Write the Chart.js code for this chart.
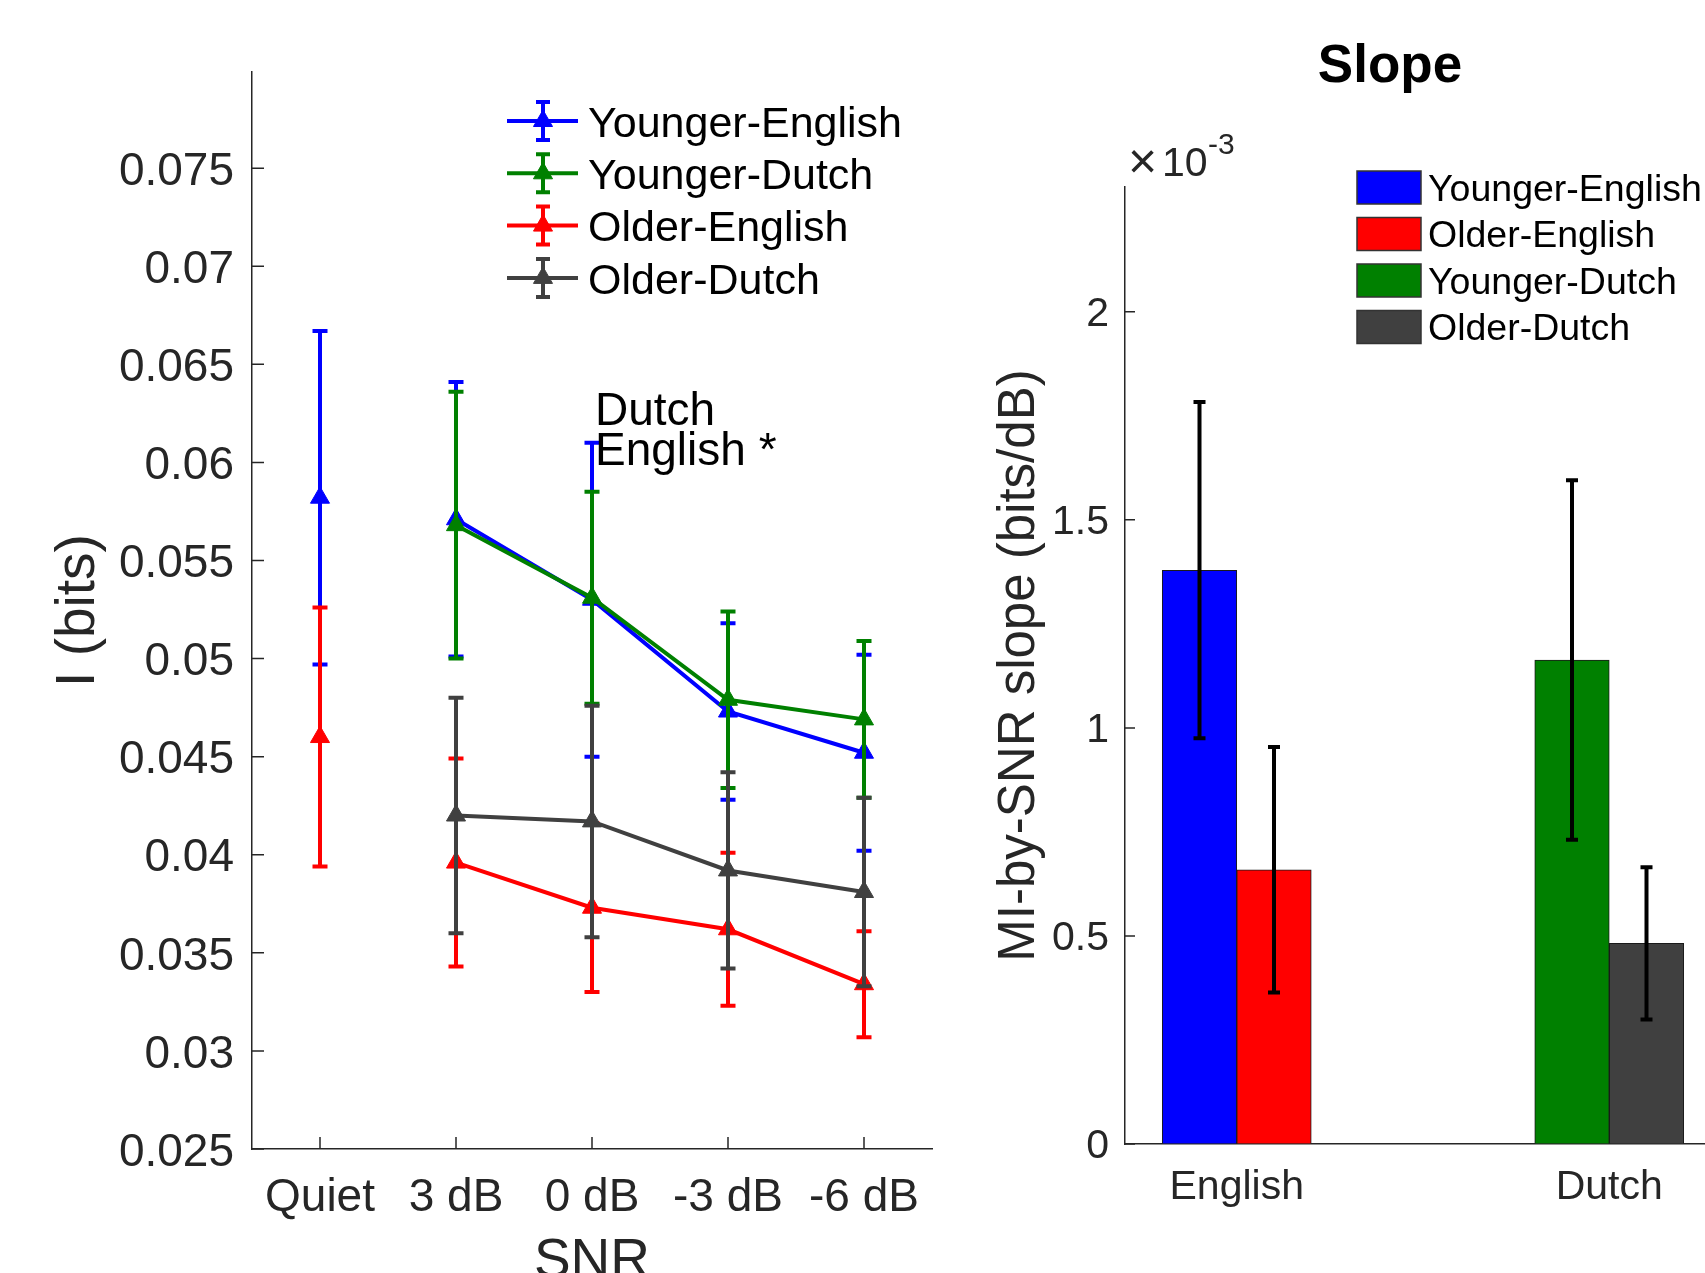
<!DOCTYPE html>
<html>
<head>
<meta charset="utf-8">
<title>MI by SNR</title>
<script src="https://cdn.jsdelivr.net/npm/chart.js@4.4.1/dist/chart.umd.min.js"></script>
<style>
	html, body { margin: 0; padding: 0; background: #fff; overflow: hidden; }
	#pagina { position: relative; width: 1705px; height: 1273px; overflow: hidden; background: #fff; }
	#graficoSnr { position: absolute; left: 0; top: 0; }
	#graficoSlope { position: absolute; left: 960px; top: 0; }
</style>
</head>
<body>
<div id="pagina">
	<canvas id="graficoSnr" width="960" height="1320"></canvas>
	<canvas id="graficoSlope" width="860" height="1273"></canvas>
</div>
<script>
// left panel: information (bits) per SNR condition, mean +- error
var snrLabels = ['Quiet', '3 dB', '0 dB', '-3 dB', '-6 dB'];
var snrTicks = [0.025, 0.03, 0.035, 0.04, 0.045, 0.05, 0.055, 0.06, 0.065, 0.07, 0.075];

var youngerEnglish    = [0.0582, 0.0571, 0.0530, 0.0473, 0.0452];
var youngerEnglishErr = [0.0085, 0.0070, 0.0080, 0.0045, 0.0050];
var youngerDutch      = [null, 0.0568, 0.0531, 0.0479, 0.0469];
var youngerDutchErr   = [null, 0.0068, 0.0054, 0.0045, 0.0040];
var olderEnglish      = [0.0460, 0.0396, 0.0373, 0.0362, 0.0334];
var olderEnglishErr   = [0.0066, 0.0053, 0.0043, 0.0039, 0.0027];
var olderDutch        = [null, 0.0420, 0.0417, 0.0392, 0.0381];
var olderDutchErr     = [null, 0.0060, 0.0059, 0.0050, 0.0048];

// right panel: MI-by-SNR slope per language
var slopeLanguages  = ['English', 'Dutch'];
var slopeTicks      = [0, 0.0005, 0.001, 0.0015, 0.002];
var slopeYounger    = [1.379e-3, 1.163e-3];
var slopeYoungerErr = [0.404e-3, 0.432e-3];
var slopeOlder      = [0.659e-3, 0.482e-3];
var slopeOlderErr   = [0.295e-3, 0.183e-3];
var slopeLegend     = ['Younger-English', 'Older-English', 'Younger-Dutch', 'Older-Dutch'];


var _fonte = "'Liberation Sans', Arial, Helvetica, sans-serif";
var _azul = '#0000ff';
var _verde = '#008000';
var _vermelho = '#ff0000';
var _cinza = '#404040';
var _eixo = '#262626';

Chart.defaults.font.family = _fonte;
Chart.defaults.color = _eixo;


// draws the error bars of each dataset right after the dataset itself
var barrasErro = {
	id: 'barrasErro',
	afterDatasetDraw: function(chart, args, opts) {
		var _ds = chart.data.datasets[args.index];
		if (!_ds.erros)
			return;

		var _meta = args.meta;
		var _escalaY = chart.scales[_meta.yAxisID];
		var ctx = chart.ctx;
		var _meia = opts.capa / 2;

		ctx.save();
		ctx.lineWidth = opts.largura;
		ctx.strokeStyle = opts.cor || _ds.borderColor;

		_meta.data.forEach(function(ponto, i) {
			var _erro = _ds.erros[i];
			var _valor = _meta.controller.getParsed(i).y;
			if (_erro == null || _valor == null || isNaN(_valor))
				return;

			var _topo = _escalaY.getPixelForValue(_valor + _erro);
			var _base = _escalaY.getPixelForValue(_valor - _erro);

			ctx.beginPath();
			ctx.moveTo(ponto.x, _topo);
			ctx.lineTo(ponto.x, _base);
			ctx.moveTo(ponto.x - _meia, _topo);
			ctx.lineTo(ponto.x + _meia, _topo);
			ctx.moveTo(ponto.x - _meia, _base);
			ctx.lineTo(ponto.x + _meia, _base);
			ctx.stroke();
		});
		ctx.restore();
	}
};

// matlab style ticks, pointing into the plot
var marcasEixo = {
	id: 'marcasEixo',
	beforeDatasetsDraw: function(chart, args, opts) {
		var ctx = chart.ctx;
		var _area = chart.chartArea;
		var _y = chart.scales.y;

		ctx.save();
		ctx.strokeStyle = _eixo;
		ctx.lineWidth = 1.5;
		ctx.beginPath();

		_y.ticks.forEach(function(t) {
			var py = _y.getPixelForValue(t.value);
			ctx.moveTo(_area.left, py);
			ctx.lineTo(_area.left + opts.tamanho, py);
		});

		if (opts.eixoX) {
			var _x = chart.scales.x;
			_x.ticks.forEach(function(t, i) {
				var px = _x.getPixelForTick(i);
				ctx.moveTo(px, _area.bottom);
				ctx.lineTo(px, _area.bottom - opts.tamanho);
			});
		}

		ctx.stroke();
		ctx.restore();
	}
};

function desenharTriangulo(ctx, x, y, raio) {
	if (Chart.helpers && Chart.helpers.drawPoint) {
		Chart.helpers.drawPoint(ctx, { pointStyle: 'triangle', radius: raio, rotation: 0, borderWidth: 1 }, x, y);
		return;
	}
	ctx.beginPath();
	ctx.moveTo(x, y - raio);
	ctx.lineTo(x + raio * 0.866, y + raio / 2);
	ctx.lineTo(x - raio * 0.866, y + raio / 2);
	ctx.closePath();
	ctx.fill();
	ctx.stroke();
}

// legend and the Dutch / English * note of the left panel
var textosSnr = {
	id: 'textosSnr',
	afterDraw: function(chart, args, opts) {
		var ctx = chart.ctx;
		ctx.save();

		chart.data.datasets.forEach(function(ds, i) {
			var _y = opts.legendaTopo + i * opts.legendaPasso;
			var _xc = opts.legendaX + 36;

			ctx.strokeStyle = ds.borderColor;
			ctx.fillStyle = ds.borderColor;

			ctx.lineWidth = 4;
			ctx.beginPath();
			ctx.moveTo(opts.legendaX, _y);
			ctx.lineTo(opts.legendaX + 71, _y);
			ctx.stroke();

			ctx.lineWidth = 4;
			ctx.beginPath();
			ctx.moveTo(_xc, _y - 19);
			ctx.lineTo(_xc, _y + 19);
			ctx.moveTo(_xc - 7, _y - 19);
			ctx.lineTo(_xc + 7, _y - 19);
			ctx.moveTo(_xc - 7, _y + 19);
			ctx.lineTo(_xc + 7, _y + 19);
			ctx.stroke();

			ctx.lineWidth = 1;
			desenharTriangulo(ctx, _xc, _y, 11);

			ctx.fillStyle = '#000';
			ctx.font = '43px ' + _fonte;
			ctx.textAlign = 'left';
			ctx.textBaseline = 'middle';
			ctx.fillText(ds.label, opts.legendaX + 81, _y + 4);
		});

		ctx.fillStyle = '#000';
		ctx.font = '46px ' + _fonte;
		ctx.textAlign = 'left';
		ctx.textBaseline = 'alphabetic';
		ctx.fillText('Dutch', opts.notaX, opts.notaY);
		ctx.fillText('English *', opts.notaX, opts.notaY + 40);

		ctx.restore();
	}
};

// title, x10^-3 multiplier and legend of the right panel
var textosSlope = {
	id: 'textosSlope',
	afterDraw: function(chart, args, opts) {
		var ctx = chart.ctx;
		var _area = chart.chartArea;
		var _cores = [];

		chart.data.datasets[0].backgroundColor.forEach(function(c, i) {
			_cores.push(c);
			_cores.push(chart.data.datasets[1].backgroundColor[i]);
		});

		ctx.save();
		ctx.fillStyle = '#000';
		ctx.font = 'bold 53px ' + _fonte;
		ctx.textAlign = 'center';
		ctx.textBaseline = 'alphabetic';
		ctx.fillText('Slope', opts.tituloX, 82);

		ctx.fillStyle = _eixo;
		ctx.textAlign = 'left';
		ctx.font = '50px ' + _fonte;
		ctx.fillText('\u00d7', _area.left + 3, 178);
		ctx.font = '41px ' + _fonte;
		ctx.fillText('10', _area.left + 37, 176);
		ctx.font = '30px ' + _fonte;
		ctx.fillText('-3', _area.left + 83, 154);

		slopeLegend.forEach(function(texto, i) {
			var _y = opts.legendaTopo + i * opts.legendaPasso;
			ctx.fillStyle = _cores[i];
			ctx.fillRect(opts.legendaX, _y - 16.5, 64, 33);
			ctx.strokeStyle = '#333';
			ctx.lineWidth = 1.5;
			ctx.strokeRect(opts.legendaX, _y - 16.5, 64, 33);

			ctx.fillStyle = '#000';
			ctx.font = '37.5px ' + _fonte;
			ctx.textBaseline = 'middle';
			ctx.fillText(texto, opts.legendaX + 71, _y + 3);
			ctx.textBaseline = 'alphabetic';
		});

		ctx.restore();
	}
};


function serieSnr(nome, valores, erros, cor, ordem) {
	return {
		label: nome,
		data: valores,
		erros: erros,
		order: ordem,
		borderColor: cor,
		backgroundColor: cor,
		borderWidth: 4,
		pointStyle: 'triangle',
		pointRadius: 11,
		pointBorderWidth: 1,
		pointBackgroundColor: cor,
		pointBorderColor: cor,
		fill: false,
		tension: 0,
		segment: {
			// Quiet is not joined to the SNR conditions
			borderColor: function(ctx) { return ctx.p0DataIndex === 0 ? 'rgba(0,0,0,0)' : undefined; }
		}
	};
}

var _graficoSnr = new Chart(document.getElementById('graficoSnr').getContext('2d'), {
	type: 'line',
	data: {
		labels: snrLabels,
		datasets: [
			serieSnr('Younger-English', youngerEnglish, youngerEnglishErr, _azul, 3),
			serieSnr('Younger-Dutch', youngerDutch, youngerDutchErr, _verde, 2),
			serieSnr('Older-English', olderEnglish, olderEnglishErr, _vermelho, 1),
			serieSnr('Older-Dutch', olderDutch, olderDutchErr, _cinza, 0)
		]
	},
	options: {
		responsive: false,
		animation: false,
		layout: { padding: { top: 72, right: 28, left: 0, bottom: 0 } },
		plugins: {
			legend: { display: false },
			tooltip: { enabled: false },
			barrasErro: { largura: 4, capa: 15 },
			marcasEixo: { tamanho: 12, eixoX: true },
			textosSnr: { legendaX: 507, legendaTopo: 121, legendaPasso: 52.3, notaX: 595, notaY: 425 }
		},
		scales: {
			x: {
				type: 'category',
				offset: true,
				grid: { display: true, drawOnChartArea: false, drawTicks: false, offset: true },
				border: { display: true, color: _eixo, width: 1.5 },
				ticks: { padding: 22, color: _eixo, font: { size: 46 }, maxRotation: 0, minRotation: 0, autoSkip: false },
				title: { display: true, text: 'SNR', color: _eixo, font: { size: 55 }, padding: { top: 0, bottom: 25 } },
				afterFit: function(escala) { escala.height = 171; }
			},
			y: {
				type: 'linear',
				min: 0.025,
				max: 0.0799,
				bounds: 'data',
				grid: { display: true, drawOnChartArea: false, drawTicks: false },
				border: { display: true, color: _eixo, width: 1.5 },
				ticks: {
					padding: 18, labelOffset: 4, color: _eixo, font: { size: 46 }, autoSkip: false,
					callback: function(v) { return String(+v.toFixed(3)); }
				},
				afterBuildTicks: function(escala) {
					escala.ticks = snrTicks.map(function(v) { return { value: v }; });
				},
				title: { display: true, text: 'I (bits)', color: _eixo, font: { size: 55 }, padding: { top: 46, bottom: 0 } },
				afterFit: function(escala) { escala.width = 252; }
			}
		}
	},
	plugins: [barrasErro, marcasEixo, textosSnr]
});


function pontosSlope(valores) {
	return valores.map(function(v, i) { return { x: i + 1, y: v }; });
}

var _graficoSlope = new Chart(document.getElementById('graficoSlope').getContext('2d'), {
	type: 'bar',
	data: {
		datasets: [
			{
				label: 'Younger',
				data: pontosSlope(slopeYounger),
				erros: slopeYoungerErr,
				backgroundColor: [_azul, _verde],
				borderColor: '#1a1a1a',
				borderWidth: 1,
				barThickness: 74.5
			},
			{
				label: 'Older',
				data: pontosSlope(slopeOlder),
				erros: slopeOlderErr,
				backgroundColor: [_vermelho, _cinza],
				borderColor: '#1a1a1a',
				borderWidth: 1,
				barThickness: 74.5
			}
		]
	},
	options: {
		responsive: false,
		animation: false,
		layout: { padding: { top: 187, right: 99, left: 0, bottom: 0 } },
		plugins: {
			legend: { display: false },
			tooltip: { enabled: false },
			barrasErro: { largura: 4, capa: 12, cor: '#000' },
			marcasEixo: { tamanho: 10, eixoX: false },
			textosSlope: { tituloX: 430, legendaX: 397, legendaTopo: 187.5, legendaPasso: 46.5 }
		},
		scales: {
			x: {
				type: 'linear',
				min: 0.7,
				max: 2.3,
				bounds: 'data',
				offset: false,
				grid: { display: true, drawOnChartArea: false, drawTicks: false },
				border: { display: true, color: _eixo, width: 1.5 },
				ticks: {
					padding: 19, color: _eixo, font: { size: 41 }, maxRotation: 0, minRotation: 0, autoSkip: false,
					callback: function(v) { return slopeLanguages[Math.round(v) - 1]; }
				},
				afterBuildTicks: function(escala) {
					escala.ticks = slopeLanguages.map(function(l, i) { return { value: i + 1 }; });
				},
				afterFit: function(escala) { escala.height = 129; }
			},
			y: {
				type: 'linear',
				min: 0,
				max: 0.0023,
				bounds: 'data',
				grid: { display: true, drawOnChartArea: false, drawTicks: false },
				border: { display: true, color: _eixo, width: 1.5 },
				ticks: {
					padding: 16, labelOffset: 3, color: _eixo, font: { size: 41 }, autoSkip: false,
					callback: function(v) { return String(Math.round(v * 1e4) / 10); }
				},
				afterBuildTicks: function(escala) {
					escala.ticks = slopeTicks.map(function(v) { return { value: v }; });
				},
				title: { display: true, text: 'MI-by-SNR slope (bits/dB)', color: _eixo, font: { size: 51 }, padding: { top: 29, bottom: 0 } },
				afterFit: function(escala) { escala.width = 165; }
			}
		}
	},
	plugins: [barrasErro, marcasEixo, textosSlope]
});
</script>
</body>
</html>
